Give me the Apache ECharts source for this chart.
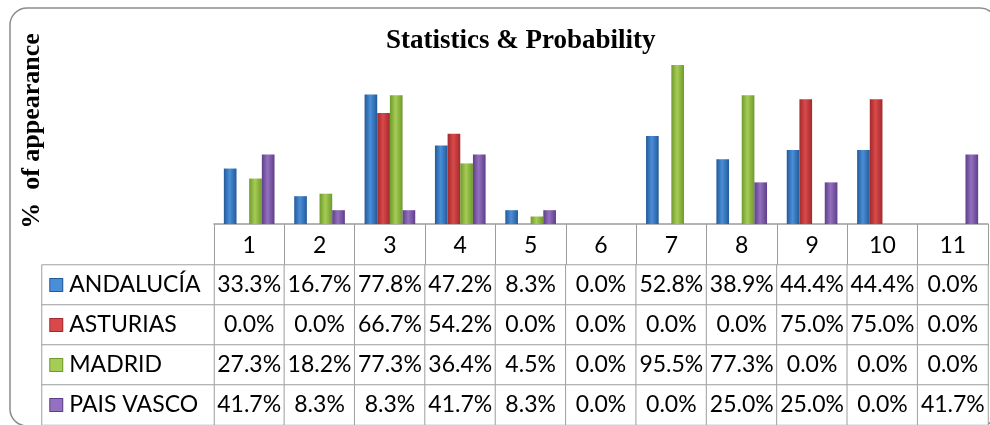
<!DOCTYPE html>
<html>
<head>
<meta charset="utf-8">
<script src="https://cdn.jsdelivr.net/npm/echarts@6/dist/echarts.min.js"></script>
<style>
html,body{margin:0;padding:0;background:#fff;}
#chart{width:990px;height:425px;}
</style>
</head>
<body>
<div id="chart"></div>
<script>
var categories = ['1','2','3','4','5','6','7','8','9','10','11'];
var regions = ['ANDALUCÍA','ASTURIAS','MADRID','PAIS VASCO'];
var andalucia = [33.3,16.7,77.8,47.2,8.3,0.0,52.8,38.9,44.4,44.4,0.0];
var asturias  = [0.0,0.0,66.7,54.2,0.0,0.0,0.0,0.0,75.0,75.0,0.0];
var madrid    = [27.3,18.2,77.3,36.4,4.5,0.0,95.5,77.3,0.0,0.0,0.0];
var paisVasco = [41.7,8.3,8.3,41.7,8.3,0.0,0.0,25.0,25.0,0.0,41.7];
var seriesValues = [andalucia, asturias, madrid, paisVasco];
var titleText = 'Statistics & Probability';
var yTitle = '%  of appearance';

var colorSets = [
  ['#235a99','#4a8ed8','#235a99'],
  ['#a12a2c','#d9494b','#a12a2c'],
  ['#6f9a2c','#a5cc55','#6f9a2c'],
  ['#5e3f87','#9370c0','#5e3f87']
];
function grad(c){
  return new echarts.graphic.LinearGradient(0,0,1,0,[
    {offset:0,color:c[0]},{offset:0.45,color:c[1]},{offset:1,color:c[2]}
  ]);
}

var tableFont = 'Lato';
var tableSize = 23;
var chart = echarts.init(document.getElementById('chart'), null, {renderer:'canvas'});

var barSeries = regions.map(function(name,i){
  return {
    name:name, type:'bar', xAxisIndex:0, yAxisIndex:0,
    data: seriesValues[i],
    barGap:'0%', barCategoryGap:'28%',
    itemStyle:{color:grad(colorSets[i])},
    emphasis:{disabled:true},
    animation:false
  };
});

var cellData = [];
seriesValues.forEach(function(vals,r){
  vals.forEach(function(v,c){ cellData.push([c,r,v]); });
});
var nameData = regions.map(function(n,r){ return [0,r,r]; });

var rich = {t:{fontFamily:tableFont,fontSize:tableSize,color:'#000',padding:[0,0,0,7]}};
regions.forEach(function(n,i){
  rich['k'+i] = {width:12,height:12,backgroundColor:colorSets[i][1],borderColor:colorSets[i][0],borderWidth:1};
});

var option = {
  animation:false,
  backgroundColor:'#fff',
  title:{
    text:titleText, left:381, top:23,
    textStyle:{fontFamily:'Liberation Serif',fontWeight:'bold',fontSize:27,color:'#000'}
  },
  graphic:[
    {type:'rect',shape:{x:10,y:8,width:987,height:418,r:17},
     style:{fill:'none',stroke:'#8c8c8c',lineWidth:1.5},silent:true,z:-1},
    {type:'text',x:32,y:131,rotation:Math.PI/2,
     style:{text:yTitle,align:'center',verticalAlign:'middle',
            font:'bold 26px "Liberation Serif"',fill:'#000'}}
  ],
  grid:[
    {left:214,width:774,top:57.5,height:166.5},
    {left:214,width:774,top:265,height:166.4},
    {left:42,width:172,top:265,height:166.4}
  ],
  xAxis:[
    {type:'category',gridIndex:0,data:categories,
     axisLine:{lineStyle:{color:'#9c9c9c',width:1.5}},
     axisTick:{show:true,interval:0,length:41,lineStyle:{color:'#9c9c9c',width:1}},
     axisLabel:{interval:0,margin:10,fontFamily:tableFont,fontSize:tableSize,color:'#000'},
     splitLine:{show:false}},
    {type:'category',gridIndex:1,data:categories,show:false},
    {type:'category',gridIndex:2,data:['name'],show:false}
  ],
  yAxis:[
    {type:'value',gridIndex:0,min:0,max:100,show:false,splitLine:{show:false}},
    {type:'category',gridIndex:1,data:regions,inverse:true,show:false},
    {type:'category',gridIndex:2,data:regions,inverse:true,show:false}
  ],
  series: barSeries.concat([
    {type:'heatmap',xAxisIndex:1,yAxisIndex:1,data:cellData,
     itemStyle:{color:'#fff',borderColor:'#a0a0a0',borderWidth:1},
     emphasis:{disabled:true},
     label:{show:true,fontFamily:tableFont,fontSize:tableSize,color:'#000',
            formatter:function(p){return p.value[2].toFixed(1)+'%';}}},
    {type:'heatmap',xAxisIndex:2,yAxisIndex:2,data:nameData,
     itemStyle:{color:'#fff',borderColor:'#a0a0a0',borderWidth:1},
     emphasis:{disabled:true},
     label:{show:true,position:'insideLeft',distance:9,rich:rich,
            formatter:function(p){var i=p.value[1];return '{k'+i+'|}{t|'+regions[i]+'}';}}}
  ])
};
chart.setOption(option);
</script>
</body>
</html>
